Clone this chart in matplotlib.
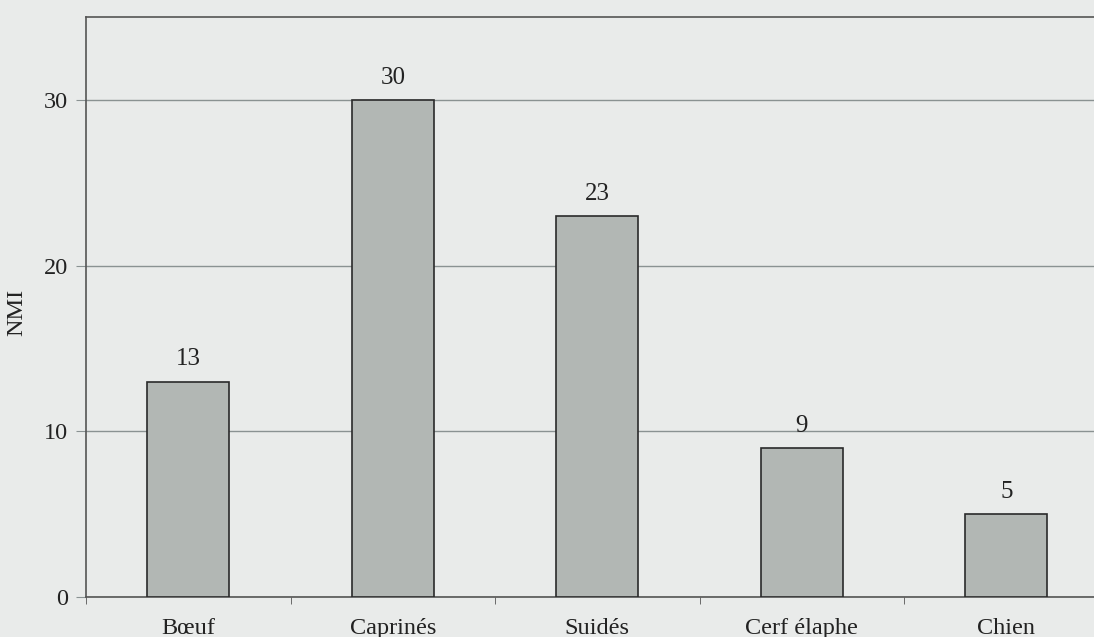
import numpy as np
import matplotlib.pyplot as plt

# données
especes = ['Bœuf', 'Caprinés', 'Suidés', 'Cerf élaphe', 'Chien']
nmi = [13, 30, 23, 9, 5]

plt.rcParams['font.family'] = ['Liberation Serif', 'DejaVu Serif']

fond = '#e9ebea'
fig = plt.figure(figsize=(10.94, 6.37), dpi=100, facecolor=fond)
ax = fig.add_axes([86 / 1094, 1 - 597 / 637, 1022.5 / 1094, 580 / 637])
ax.set_facecolor(fond)

x = np.arange(len(especes))
ax.bar(x, nmi, width=0.4, color='#b2b7b4', edgecolor='#2a2a2a', linewidth=1.2, zorder=3)

for xi, v in zip(x, nmi):
    ax.annotate(str(v), (xi, v), xytext=(0, 8), textcoords='offset points',
                ha='center', va='bottom', fontsize=18, color='#222222')

ax.set_xlim(-0.5, len(especes) - 0.5)
ax.set_ylim(0, 35)
ax.set_yticks([0, 10, 20, 30])
ax.yaxis.grid(True, color='#8a9292', linewidth=1.0, zorder=0)
ax.tick_params(axis='y', length=7, color='#8a9292', labelsize=17.5, pad=6, labelcolor='#222222')

ax.set_xticks(x)
ax.set_xticklabels(especes)
ax.set_xticks(np.arange(len(especes) + 1) - 0.5, minor=True)
ax.tick_params(axis='x', which='major', length=0, labelsize=17.5, pad=15, labelcolor='#222222')
ax.tick_params(axis='x', which='minor', length=5, color='#555555')

ax.set_ylabel('NMI', fontsize=17.5, color='#222222')
ax.yaxis.set_label_coords(-0.0577, 0.49)

for s in ['left', 'top', 'bottom', 'right']:
    ax.spines[s].set_color('#555555')
    ax.spines[s].set_linewidth(1.2)

fig.savefig('out.png', dpi=100, facecolor=fond)
